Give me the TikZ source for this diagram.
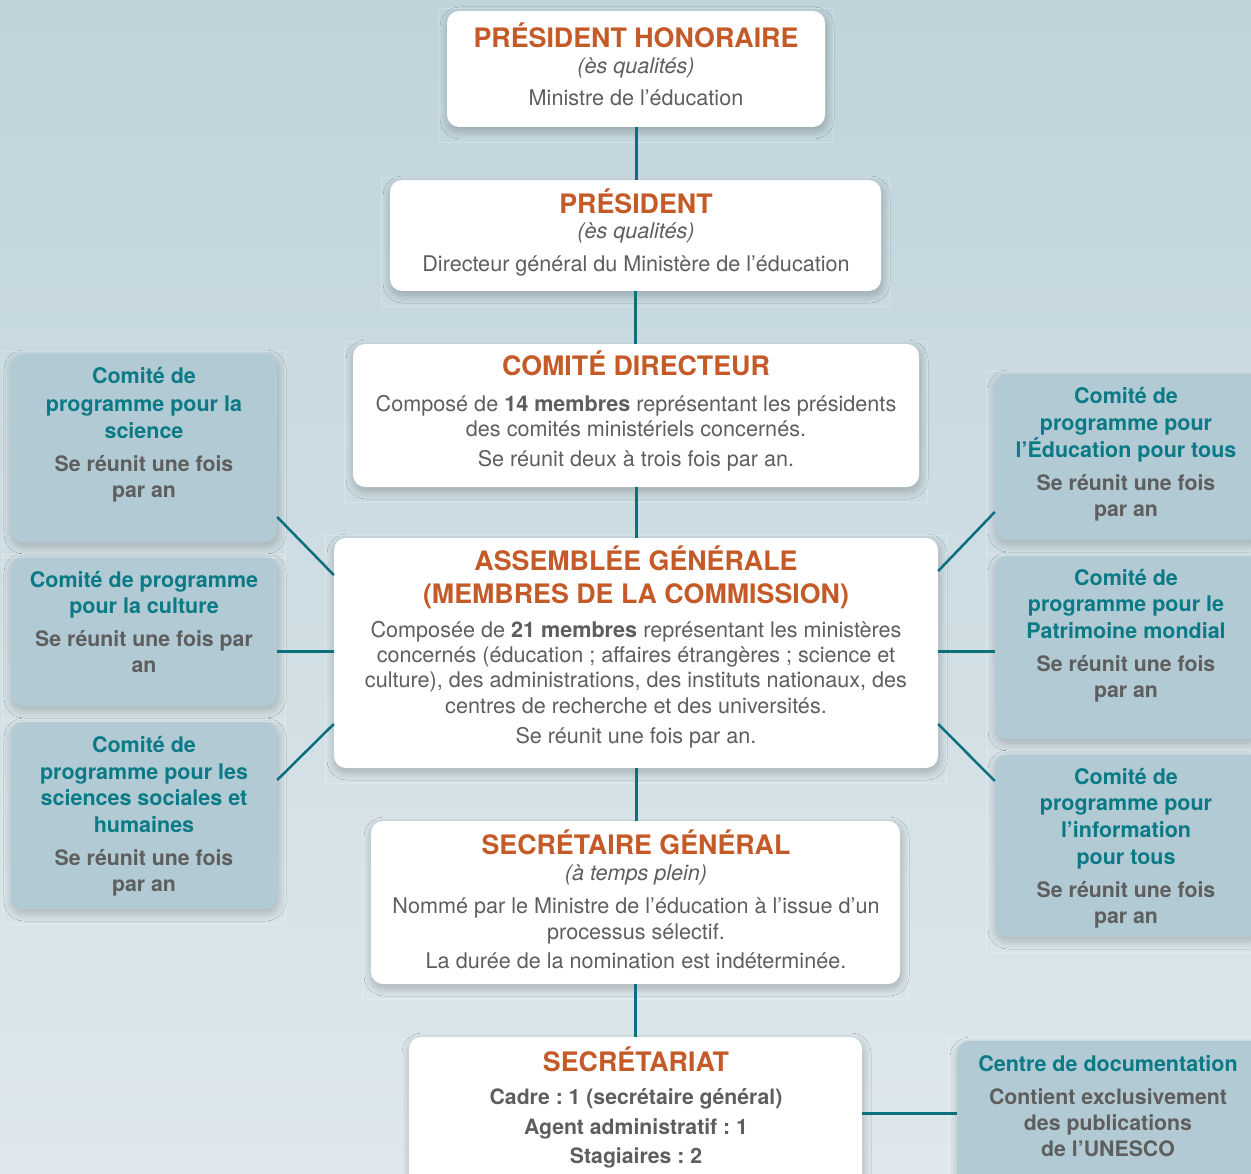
\documentclass[tikz,border=0pt]{standalone}
\usepackage{fontspec}
\setmainfont{TeX Gyre Heros}
\usetikzlibrary{shadows.blur,calc}
\definecolor{orng}{HTML}{C45A28}
\definecolor{teal}{HTML}{0A7A86}
\definecolor{grayt}{HTML}{5E5E5E}
\definecolor{sidefill}{HTML}{B2CAD3}
\definecolor{linec}{HTML}{0B6F7C}
\definecolor{bgtop}{HTML}{BFD3DB}
\definecolor{bgbot}{HTML}{DEE8EC}
\frenchspacing
\newcommand\tline[4]{\node[#1,anchor=base] (#2) at (#3) {#4};}
\begin{document}
\begin{tikzpicture}[x=1pt,y=-1pt,
  mainbox/.style={fill=white, rounded corners=12pt, inner sep=0pt,
    blur shadow={shadow blur steps=14, shadow xshift=1pt, shadow yshift=-4pt, shadow opacity=24, shadow blur radius=8pt}},
  sidebox/.style={fill=sidefill, rounded corners=12pt, inner sep=0pt,
    blur shadow={shadow blur steps=14, shadow xshift=1pt, shadow yshift=-4pt, shadow opacity=22, shadow blur radius=8pt}},
  frame/.style={draw=white, draw opacity=0.25, line width=1pt},
  conn/.style={draw=linec, line width=3pt},
  ttl/.style={text=orng, font=\bfseries\fontsize{26.8}{30}\selectfont, inner sep=0pt},
  ita/.style={text=grayt, font=\itshape\fontsize{21.6}{25}\selectfont, inner sep=0pt},
  bod/.style={text=grayt, font=\fontsize{21.6}{25}\selectfont, inner sep=0pt},
  bbod/.style={text=grayt, font=\bfseries\fontsize{21.2}{25}\selectfont, inner sep=0pt},
  sttl/.style={text=teal, font=\bfseries\fontsize{21.5}{25}\selectfont, inner sep=0pt},
  sbod/.style={text=grayt, font=\bfseries\fontsize{21.3}{25}\selectfont, inner sep=0pt},
]
\useasboundingbox (0,0) rectangle (1251,1174);
\shade[top color=bgtop, bottom color=bgbot] (0,0) rectangle (1251,1174);

% boxes
\node[mainbox, minimum width=378pt, minimum height=116pt] (b1) at (636,69) {};
\node[mainbox, minimum width=491pt, minimum height=111pt] (b2) at (635.5,235.5) {};
\node[mainbox, minimum width=566pt, minimum height=143pt] (b3) at (636,415.5) {};
\node[mainbox, minimum width=604pt, minimum height=230pt] (b4) at (636,653) {};
\node[mainbox, minimum width=529pt, minimum height=163pt] (b5) at (635.5,902.5) {};
\node[mainbox, minimum width=453pt, minimum height=163pt] (b6) at (635.5,1118.5) {};
\node[sidebox, minimum width=266pt, minimum height=188pt] (l1) at (144,448) {};
\node[sidebox, minimum width=266pt, minimum height=149pt] (l2) at (144,631.5) {};
\node[sidebox, minimum width=266pt, minimum height=187pt] (l3) at (144,815.5) {};
\node[sidebox, minimum width=266pt, minimum height=166pt] (r1) at (1128,457) {};
\node[sidebox, minimum width=266pt, minimum height=183pt] (r2) at (1128,647.5) {};
\node[sidebox, minimum width=266pt, minimum height=183pt] (r3) at (1128,845.5) {};
\node[sidebox, minimum width=313pt, minimum height=159pt] (cd) at (1113.5,1120.5) {};

% faint frames
\foreach \b in {b1,b2,b3,b4,b5,l1,l2,l3,r1,r2,r3,cd}{
  \draw[frame] ($(\b.north west)+(-8,-2)$) rectangle ($(\b.south east)+(8,15)$);
}

% connectors
\draw[conn] (b1.south) -- (b1.south |- b2.north);
\draw[conn] (b2.south) -- (b2.south |- b3.north);
\draw[conn] (b3.south) -- (b3.south |- b4.north);
\draw[conn] (b4.south) -- (b4.south |- b5.north);
\draw[conn] (b5.south) -- (b5.south |- b6.north);
\draw[conn, line width=2.5pt] (l1.east |- 0,517) -- (b4.west |- 0,575);
\draw[conn] (l2.east |- 0,651) -- (b4.west |- 0,651);
\draw[conn, line width=2.5pt] (l3.east |- 0,780) -- (b4.west |- 0,724);
\draw[conn, line width=2.5pt] (r1.west |- 0,512) -- (b4.east |- 0,571);
\draw[conn] (r2.west |- 0,651) -- (b4.east |- 0,651);
\draw[conn, line width=2.5pt] (r3.west |- 0,781) -- (b4.east |- 0,724);
\draw[conn] (b6.east |- 0,1113) -- (cd.west |- 0,1113);

% box 1
\tline{ttl}{t1a}{636,48}{PRÉSIDENT HONORAIRE}
\tline{ita}{t1b}{636,74}{(ès qualités)}
\tline{bod}{t1c}{636,106}{Ministre de l’éducation}
% box 2
\tline{ttl}{t2a}{636,214}{PRÉSIDENT}
\tline{ita}{t2b}{636,239}{(ès qualités)}
\tline{bod}{t2c}{636,272}{Directeur général du Ministère de l’éducation}
% box 3
\tline{ttl}{t3a}{636,376}{COMITÉ DIRECTEUR}
\tline{bod}{t3b}{636,411}{Composé de \textbf{14 membres} représentant les présidents}
\tline{bod}{t3c}{636,436}{des comités ministériels concernés.}
\tline{bod}{t3d}{636,466}{Se réunit deux à trois fois par an.}
% box 4
\tline{ttl}{t4a}{636,570}{ASSEMBLÉE GÉNÉRALE}
\tline{ttl}{t4b}{636,603}{(MEMBRES DE LA COMMISSION)}
\tline{bod}{t4c}{636,637}{Composée de \textbf{21 membres} représentant les ministères}
\tline{bod}{t4d}{636,662}{concernés (éducation ; affaires étrangères ; science et}
\tline{bod}{t4e}{636,687}{culture), des administrations, des instituts nationaux, des}
\tline{bod}{t4f}{636,713}{centres de recherche et des universités.}
\tline{bod}{t4g}{636,743}{Se réunit une fois par an.}
% box 5
\tline{ttl}{t5a}{636,854}{SECRÉTAIRE GÉNÉRAL}
\tline{ita}{t5b}{636,880}{(à temps plein)}
\tline{bod}{t5c}{636,913}{Nommé par le Ministre de l’éducation à l’issue d’un}
\tline{bod}{t5d}{636,939}{processus sélectif.}
\tline{bod}{t5e}{636,968}{La durée de la nomination est indéterminée.}
% box 6
\tline{ttl}{t6a}{636,1071}{SECRÉTARIAT}
\tline{bbod}{t6b}{636,1104}{Cadre : 1 (secrétaire général)}
\tline{bbod}{t6c}{636,1134}{Agent administratif : 1}
\tline{bbod}{t6d}{636,1163}{Stagiaires : 2}
% left 1
\tline{sttl}{tl1a}{144,384}{Comité de}
\tline{sttl}{tl1b}{144,411}{programme pour la}
\tline{sttl}{tl1c}{144,438}{science}
\tline{sbod}{tl1d}{144,471}{Se réunit une fois}
\tline{sbod}{tl1e}{144,497}{par an}
% left 2
\tline{sttl}{tl2a}{144,587}{Comité de programme}
\tline{sttl}{tl2b}{144,613}{pour la culture}
\tline{sbod}{tl2c}{144,646}{Se réunit une fois par}
\tline{sbod}{tl2d}{144,672}{an}
% left 3
\tline{sttl}{tl3a}{144,752}{Comité de}
\tline{sttl}{tl3b}{144,779}{programme pour les}
\tline{sttl}{tl3c}{144,805}{sciences sociales et}
\tline{sttl}{tl3d}{144,832}{humaines}
\tline{sbod}{tl3e}{144,865}{Se réunit une fois}
\tline{sbod}{tl3f}{144,891}{par an}
% right 1
\tline{sttl}{tr1a}{1126,403}{Comité de}
\tline{sttl}{tr1b}{1126,430}{programme pour}
\tline{sttl}{tr1c}{1126,457}{l’Éducation pour tous}
\tline{sbod}{tr1d}{1126,490}{Se réunit une fois}
\tline{sbod}{tr1e}{1126,516}{par an}
% right 2
\tline{sttl}{tr2a}{1126,585}{Comité de}
\tline{sttl}{tr2b}{1126,611}{programme pour le}
\tline{sttl}{tr2c}{1126,638}{Patrimoine mondial}
\tline{sbod}{tr2d}{1126,671}{Se réunit une fois}
\tline{sbod}{tr2e}{1126,697}{par an}
% right 3
\tline{sttl}{tr3a}{1126,784}{Comité de}
\tline{sttl}{tr3b}{1126,810}{programme pour}
\tline{sttl}{tr3c}{1126,837}{l’information}
\tline{sttl}{tr3d}{1126,864}{pour tous}
\tline{sbod}{tr3e}{1126,897}{Se réunit une fois}
\tline{sbod}{tr3f}{1126,923}{par an}
% centre de documentation
\tline{sttl}{tcda}{1108,1071}{Centre de documentation}
\tline{sbod}{tcdb}{1108,1104}{Contient exclusivement}
\tline{sbod}{tcdc}{1108,1130}{des publications}
\tline{sbod}{tcdd}{1108,1156}{de l’UNESCO}
\end{tikzpicture}
\end{document}
